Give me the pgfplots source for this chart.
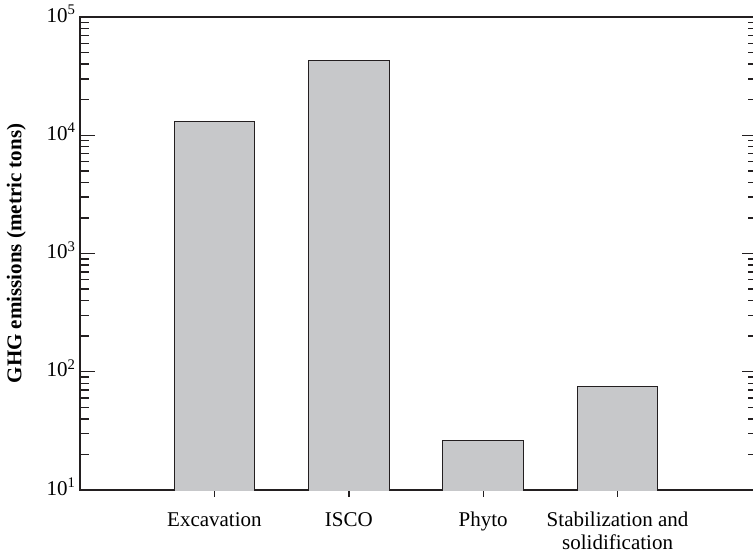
\documentclass[border=0pt]{standalone}
\usepackage{fontspec}
\setmainfont{Liberation Serif}
\usepackage{pgfplots}
\pgfplotsset{compat=1.18}
\definecolor{barfill}{HTML}{C7C8CA}
\definecolor{ink}{HTML}{231F20}

\begin{document}
\begin{tikzpicture}
\begin{axis}[
  scale only axis, width=677pt, height=473pt,
  ymode=log, ymin=10, ymax=1e5,
  xmin=-1, xmax=4.0372,
  ytick={10,100,1000,10000,100000},
  yticklabels={10\textsuperscript{1},10\textsuperscript{2},10\textsuperscript{3},10\textsuperscript{4},10\textsuperscript{5}},
  xtick={0,1,2,3},
  xticklabels={Excavation, ISCO, Phyto, {Stabilization and\\solidification}},
  typeset ticklabels with strut,
  xticklabel style={align=center, font=\fontsize{21}{23}\selectfont, yshift=-17pt},
  yticklabel style={font=\fontsize{21}{23}\selectfont, xshift=-1pt},
  xtick pos=left,
  xtick style={draw=none},
  extra x ticks={0,1,2,3},
  extra x tick labels={},
  extra x tick style={tick align=outside, major tick length=7pt,
    xtick style={draw=ink, line width=1.4pt}},
  tick align=inside,
  major tick length=15pt, minor tick length=9pt,
  axis line style={ink, line width=1.6pt},
  tick style={ink, line width=1.4pt},
  ylabel={\textbf{GHG emissions (metric tons)}},
  ylabel style={at={(axis description cs:-0.094,0.5)}, anchor=center, font=\fontsize{21}{23}\selectfont},
]
\addplot[ybar, bar width=0.6, fill=barfill, draw=ink, line width=1pt]
  coordinates {(0,13000) (1,42500) (2,26) (3,75)};
\end{axis}
\pgfresetboundingbox
\path[use as bounding box] ([xshift=-80pt,yshift=-64pt]current axis.south west) rectangle ([xshift=-4pt,yshift=17pt]current axis.north east);
\end{tikzpicture}
\end{document}
